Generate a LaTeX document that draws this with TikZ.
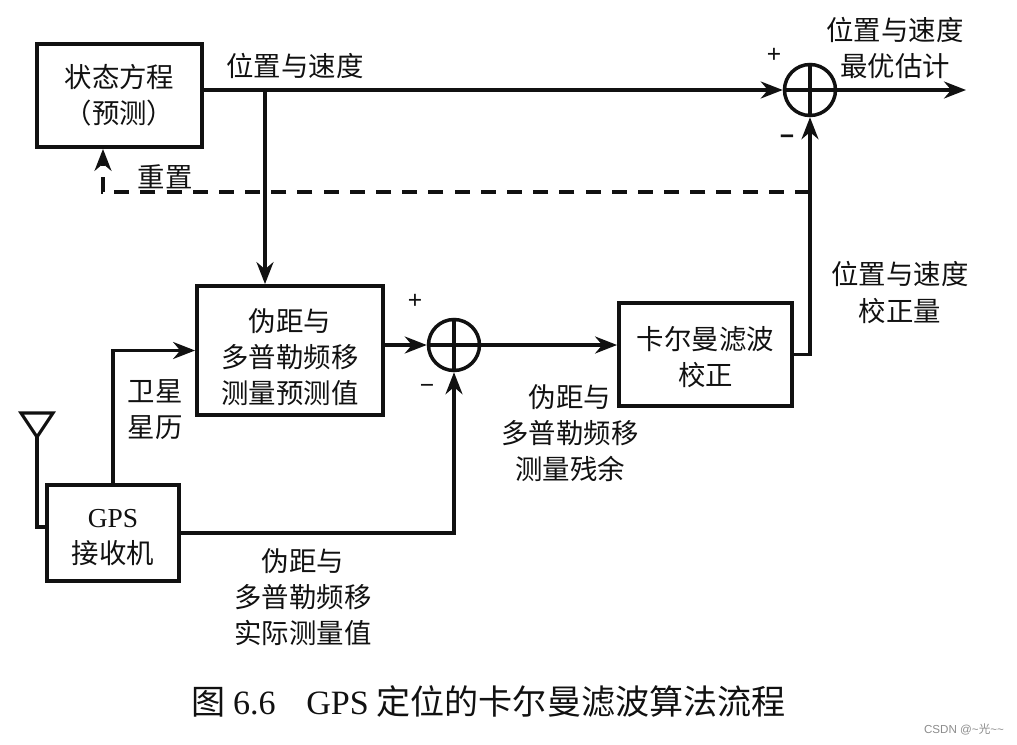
\documentclass[tikz,border=0pt]{standalone}
\usepackage{fontspec}
\setmainfont{Liberation Serif}
\setsansfont{Liberation Sans}
\newfontfamily\cjk{Noto Sans CJK SC}
\usetikzlibrary{arrows.meta, calc}
\definecolor{cInk}{HTML}{111111}
\definecolor{cMark}{HTML}{8C8C8C}

\begin{document}
\begin{tikzpicture}[
    x=1cm, y=1cm, font=\cjk\fontsize{15.6}{20.5}\selectfont,
    bloque/.style={draw=cInk, line width=2.2pt, align=center, inner sep=0pt, text=cInk},
    rotulo/.style={align=center, inner sep=0pt, text=cInk},
    suma/.style={circle, draw=cInk, line width=2pt, minimum size=1.02cm, inner sep=0pt},
    signo/.style={inner sep=0pt, text=cInk, font=\sffamily\fontsize{14}{14}\selectfont},
    wire/.style={draw=cInk, line width=1.8pt},
    flecha/.style={wire, -{Stealth[length=0.44cm, width=0.34cm]}},
    flechaD/.style={flecha, dash pattern=on 0.30cm off 0.2237cm},
]

\useasboundingbox (0,0) rectangle (20.34,14.88);

% ===================== Bloques =====================
\node[bloque, minimum width=3.30cm, minimum height=2.06cm] (estado) at (2.39,12.97)
      {状态方程\\（预测）};
\node[bloque, minimum width=3.72cm, minimum height=2.58cm] (pred) at (5.80,7.87)
      {\rule{0pt}{20.5pt}伪距与\\多普勒频移\\测量预测值};
\node[bloque, minimum width=3.46cm, minimum height=2.06cm] (kalman) at (14.11,7.79)
      {\rule{0pt}{16pt}卡尔曼滤波\\校正};
\node[bloque, minimum width=2.64cm, minimum height=1.92cm] (gps) at (2.26,4.22)
      {\rule{0pt}{15.5pt}\textrm{GPS}\\接收机};

% ===================== Sumadores =====================
\node[suma] (sumA) at (9.08,7.98) {};
\node[suma] (sumB) at (16.20,13.08) {};
\foreach \s in {sumA,sumB} {
    \draw[wire] (\s.north) -- (\s.south);
    \draw[wire] (\s.west) -- (\s.east);
}

% ===================== Puntos libres =====================
\coordinate (tapPos) at (5.30,13.08);
\coordinate (tapReset) at (16.20,11.04);
\coordinate (resetIn) at (2.06,11.04);
\coordinate (salida) at (19.32,13.08);
\coordinate (antTip) at (0.74,6.14);
\coordinate (antIzq) at (0.42,6.62);
\coordinate (antDer) at (1.06,6.62);
\coordinate (antPie) at (0.74,4.34);

% ===================== Conexiones =====================
\draw[flecha] (estado.east |- sumB.west) -- (sumB.west);
\draw[flecha] (sumB.east) -- (salida);
\draw[flecha] (tapPos) -- (tapPos |- pred.north);
\draw[flechaD] (tapReset) -- (resetIn) -- (resetIn |- estado.south);
\draw[flecha] (pred.east |- sumA.west) -- (sumA.west);
\draw[flecha] (sumA.east) -- (kalman.west |- sumA.east);
\draw[flecha] (kalman.east) -| (sumB.south);
\draw[flecha] (gps.north) |- (pred.west);
\draw[flecha] (gps.east) -| (sumA.south);

% Antena del receptor.
\draw[wire, line join=miter] (antIzq) -- (antDer) -- (antTip) -- cycle;
\draw[wire] (antTip) -- (antPie) -- (antPie -| gps.west);

% ===================== Rotulos =====================
\node[rotulo] (lbPos) at (5.90,13.56) {位置与速度};
\node[rotulo] (lbOpt) at (17.90,13.92) {位置与速度\\最优估计};
\node[rotulo] (lbReset) at (3.30,11.34) {重置};
\node[rotulo] (lbCorr) at (18.00,9.03) {位置与速度\\校正量};
\node[rotulo] (lbRes) at (11.40,6.22) {伪距与\\多普勒频移\\测量残余};
\node[rotulo] (lbEfem) at (3.10,6.69) {卫星\\星历};
\node[rotulo] (lbReal) at (6.06,2.94) {伪距与\\多普勒频移\\实际测量值};

\node[signo] (masB) at (15.48,13.78) {+};
\node[signo, font=\sffamily\bfseries\fontsize{14}{14}\selectfont] (menosB) at (15.74,12.08) {−};
\node[signo] (masA) at (8.30,8.86) {+};
\node[signo] (menosA) at (8.54,7.10) {−};

% ===================== Pie =====================
\node[rotulo, font=\cjk\fontsize{19.4}{23}\selectfont] (pie) at (9.77,0.84)
      {图 \textrm{6.6}\hspace{0.9em}\textrm{GPS} 定位的卡尔曼滤波算法流程};
\node[rotulo, text=cMark, font=\sffamily\fontsize{6.6}{8}\selectfont] (marca) at (19.28,0.30)
      {CSDN @\textasciitilde{}{\cjk 光}\textasciitilde\textasciitilde};

\end{tikzpicture}
\end{document}
